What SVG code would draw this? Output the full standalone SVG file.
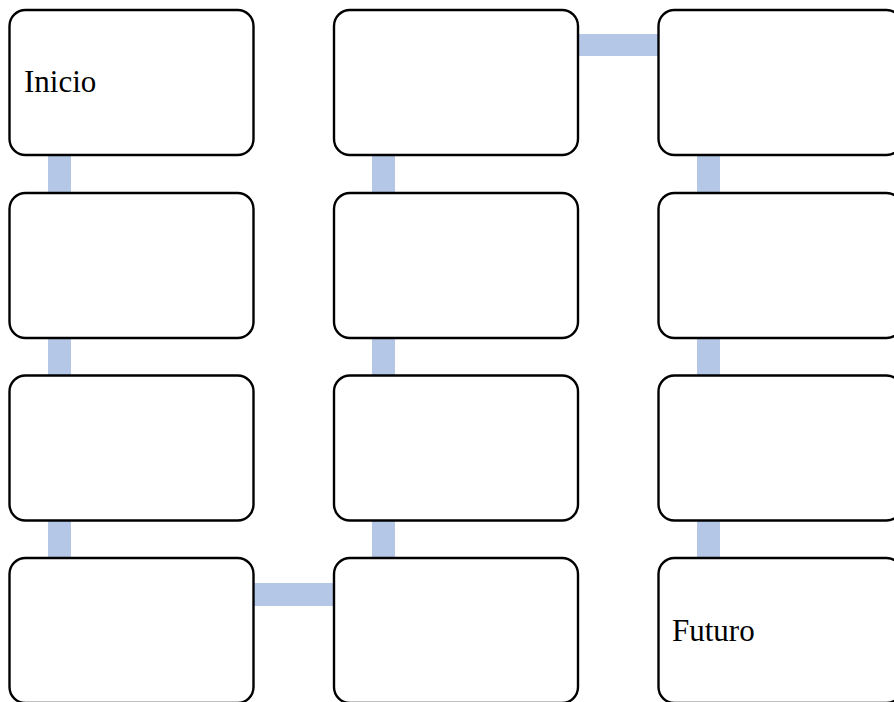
<svg xmlns="http://www.w3.org/2000/svg" width="894" height="702" viewBox="0 0 894 702">
<style>
.box{fill:#fff;stroke:#000;stroke-width:2.4}
.con{fill:#b4c7e7}
.lbl{font-family:"Liberation Serif","Times New Roman",serif;font-size:31px;fill:#000}
</style>
<rect width="894" height="702" fill="#fff"/>
<g id="connectors">
<rect class="con" x="48" y="154" width="23" height="40"/>
<rect class="con" x="48" y="337" width="23" height="40"/>
<rect class="con" x="48" y="520" width="23" height="40"/>
<rect class="con" x="253" y="583" width="82" height="23"/>
<rect class="con" x="372" y="520" width="23" height="40"/>
<rect class="con" x="372" y="337" width="23" height="40"/>
<rect class="con" x="372" y="154" width="23" height="40"/>
<rect class="con" x="577" y="34" width="82" height="22"/>
<rect class="con" x="697" y="154" width="23" height="40"/>
<rect class="con" x="697" y="337" width="23" height="40"/>
<rect class="con" x="697" y="520" width="23" height="40"/>
</g>
<g id="n1"><rect class="box" x="9.5" y="10" width="244" height="145" rx="16"/><text class="lbl" x="24" y="92">Inicio</text></g>
<g id="n2"><rect class="box" x="9.5" y="193" width="244" height="145" rx="16"/></g>
<g id="n3"><rect class="box" x="9.5" y="375.5" width="244" height="145" rx="16"/></g>
<g id="n4"><rect class="box" x="9.5" y="558" width="244" height="145" rx="16"/></g>
<g id="n5"><rect class="box" x="334" y="558" width="244" height="145" rx="16"/></g>
<g id="n6"><rect class="box" x="334" y="375.5" width="244" height="145" rx="16"/></g>
<g id="n7"><rect class="box" x="334" y="193" width="244" height="145" rx="16"/></g>
<g id="n8"><rect class="box" x="334" y="10" width="244" height="145" rx="16"/></g>
<g id="n9"><rect class="box" x="658.5" y="10" width="244" height="145" rx="16"/></g>
<g id="n10"><rect class="box" x="658.5" y="193" width="244" height="145" rx="16"/></g>
<g id="n11"><rect class="box" x="658.5" y="375.5" width="244" height="145" rx="16"/></g>
<g id="n12"><rect class="box" x="658.5" y="558" width="244" height="145" rx="16"/><text class="lbl" x="672" y="641">Futuro</text></g>
</svg>
